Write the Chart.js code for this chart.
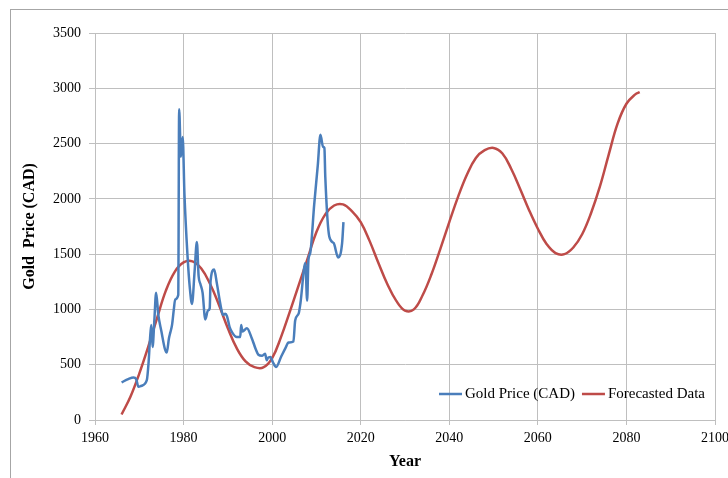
<!DOCTYPE html>
<html>
<head>
<meta charset="utf-8">
<script src="https://cdn.jsdelivr.net/npm/chart.js"></script>
<style>
  html, body { margin: 0; padding: 0; background: #fff; }
  #wrap { width: 728px; height: 478px; position: relative; }
</style>
</head>
<body>
<div id="wrap"><canvas id="chartGold"></canvas></div>
<script>
// Datos
const goldYears = [1966.0, 1967.5, 1968.7, 1969.3, 1969.8, 1970.5, 1971.7, 1972.1, 1972.4, 1972.7,
  1973.0, 1973.4, 1973.8, 1974.3, 1975.0, 1975.8, 1976.2, 1976.7, 1977.0, 1977.4,
  1977.8, 1978.1, 1978.8, 1979.0, 1979.4, 1979.8, 1980.2, 1980.9, 1981.4, 1981.9,
  1982.5, 1983.0, 1983.4, 1983.8, 1984.3, 1984.9, 1985.5, 1985.9, 1986.1, 1986.9,
  1987.5, 1988.3, 1988.9, 1989.4, 1989.8, 1990.4, 1991.0, 1992.0, 1992.8, 1993.0,
  1993.3, 1994.3, 1995.4, 1996.3, 1996.9, 1997.7, 1998.4, 1998.8, 1999.0, 1999.6,
  2000.2, 2000.9, 2002.0, 2003.0, 2003.7, 2004.8, 2005.2, 2006.0, 2006.4, 2007.5,
  2007.9, 2008.2, 2008.6, 2009.5, 2010.3, 2010.9, 2011.5, 2011.8, 2012.0, 2012.9,
  2013.9, 2014.9, 2015.8, 2016.1];
const goldPrices = [340, 370, 385, 370, 300, 310, 360, 520, 720, 860,
  660, 900, 1150, 950, 800, 640, 610, 740, 790, 860,
  1000, 1090, 1130, 2810, 2380, 2560, 2040, 1480, 1200, 1050,
  1350, 1610, 1300, 1230, 1150, 910, 990, 1010, 1260, 1360,
  1240, 1050, 950, 960, 940, 840, 790, 750, 750, 860,
  800, 830, 740, 640, 590, 580, 600, 540, 560, 570,
  520, 480, 570, 650, 700, 710, 900, 965, 1060, 1420,
  1080, 1450, 1510, 1950, 2300, 2580, 2470, 2460, 2200, 1660,
  1600, 1470, 1600, 1790];

const forecastYears = [1966, 1968, 1970, 1972, 1974, 1976, 1978, 1980, 1982, 1984,
  1986, 1988, 1990, 1992, 1994, 1996, 1998, 2000, 2002, 2004,
  2006, 2008, 2010, 2012, 2014, 2016, 2018, 2020, 2022, 2024,
  2026, 2028, 2030, 2032, 2034, 2036, 2038, 2040, 2042, 2044,
  2046, 2048, 2050, 2052, 2054, 2056, 2058, 2060, 2062, 2064,
  2066, 2068, 2070, 2072, 2074, 2076, 2078, 2080, 2082, 2083];
const forecastValues = [50, 210, 420, 660, 920, 1170, 1340, 1425, 1435, 1370,
  1230, 1040, 830, 650, 530, 478, 475, 560, 750, 980,
  1220, 1460, 1700, 1860, 1940, 1950, 1890, 1790, 1620, 1420,
  1230, 1080, 990, 1000, 1130, 1320, 1550, 1790, 2020, 2220,
  2370, 2440, 2460, 2410, 2270, 2090, 1900, 1730, 1590, 1510,
  1500, 1560, 1680, 1870, 2110, 2400, 2680, 2860, 2945, 2965];

const xTicks = [1960, 1980, 2000, 2020, 2040, 2060, 2080, 2100];
const yTicks = [0, 500, 1000, 1500, 2000, 2500, 3000, 3500];

const serif = '"Liberation Serif", "Times New Roman", serif';

function toPoints(xs, ys) {
    return xs.map((x, i) => ({ x: x, y: ys[i] }));
}

// Marco gris alrededor del gráfico
const framePlugin = {
    id: 'frame',
    beforeDraw(chart) {
        const ctx = chart.ctx;
        ctx.save();
        ctx.strokeStyle = '#a6a6a6';
        ctx.lineWidth = 1;
        ctx.strokeRect(10.5, 9.5, chart.width + 20, chart.height + 20);
        ctx.restore();
    }
};

// Leyenda dentro del área del gráfico (abajo a la derecha)
const insideLegend = {
    id: 'insideLegend',
    afterDatasetsDraw(chart) {
        const ctx = chart.ctx;
        const area = chart.chartArea;
        const sets = chart.data.datasets;
        ctx.save();
        ctx.font = '15px ' + serif;
        ctx.textBaseline = 'middle';
        const sample = 23, gapText = 3, gapItem = 7;
        let total = 0;
        sets.forEach((ds, i) => {
            total += sample + gapText + ctx.measureText(ds.label).width;
            if (i < sets.length - 1) total += gapItem;
        });
        let x = area.right - 10 - total;
        const y = area.bottom - 26;
        sets.forEach(ds => {
            ctx.strokeStyle = ds.borderColor;
            ctx.lineWidth = 2.5;
            ctx.beginPath();
            ctx.moveTo(x, y);
            ctx.lineTo(x + sample, y);
            ctx.stroke();
            x += sample + gapText;
            ctx.fillStyle = '#000';
            ctx.fillText(ds.label, x, y);
            x += ctx.measureText(ds.label).width + gapItem;
        });
        ctx.restore();
    }
};

const ctx = document.getElementById('chartGold').getContext('2d');
const chart = new Chart(ctx, {
    type: 'line',
    data: {
        datasets: [{
            label: 'Gold Price (CAD)',
            data: toPoints(goldYears, goldPrices),
            borderColor: '#4a7ebb',
            borderWidth: 2.5,
            pointRadius: 0,
            cubicInterpolationMode: 'monotone',
            fill: false
        }, {
            label: 'Forecasted Data',
            data: toPoints(forecastYears, forecastValues),
            borderColor: '#be4b48',
            borderWidth: 2.5,
            pointRadius: 0,
            tension: 0.4,
            fill: false
        }]
    },
    options: {
        responsive: true,
        maintainAspectRatio: false,
        animation: false,
        layout: {
            padding: { top: 33, right: 13, left: 0, bottom: 0 }
        },
        plugins: {
            legend: { display: false },
            tooltip: { enabled: false }
        },
        scales: {
            x: {
                type: 'linear',
                min: 1960,
                max: 2100,
                afterBuildTicks: (scale) => {
                    scale.ticks = xTicks.map(v => ({ value: v }));
                },
                afterFit: (scale) => {
                    scale.height = 58;
                    scale.paddingLeft = 0;
                    scale.paddingRight = 0;
                },
                ticks: {
                    autoSkip: false,
                    maxRotation: 0,
                    padding: 5,
                    color: '#000',
                    font: { family: serif, size: 14 },
                    callback: (v) => String(v)
                },
                grid: {
                    color: '#bfbfbf',
                    lineWidth: 1,
                    tickLength: 5
                },
                border: { color: '#bfbfbf' },
                title: {
                    display: true,
                    text: 'Year',
                    color: '#000',
                    font: { family: serif, size: 16, weight: 'bold' },
                    padding: { top: 4, bottom: 7 }
                }
            },
            y: {
                min: 0,
                max: 3500,
                afterBuildTicks: (scale) => {
                    scale.ticks = yTicks.map(v => ({ value: v }));
                },
                afterFit: (scale) => {
                    scale.width = 95;
                },
                ticks: {
                    padding: 8,
                    color: '#000',
                    font: { family: serif, size: 14 },
                    callback: (v) => String(v)
                },
                grid: {
                    color: '#bfbfbf',
                    lineWidth: 1,
                    tickLength: 6
                },
                border: { color: '#bfbfbf' },
                title: {
                    display: true,
                    text: 'Gold  Price (CAD)',
                    color: '#000',
                    font: { family: serif, size: 16, weight: 'bold' },
                    padding: { top: 20, bottom: 0 }
                }
            }
        }
    },
    plugins: [framePlugin, insideLegend]
});
</script>
</body>
</html>
